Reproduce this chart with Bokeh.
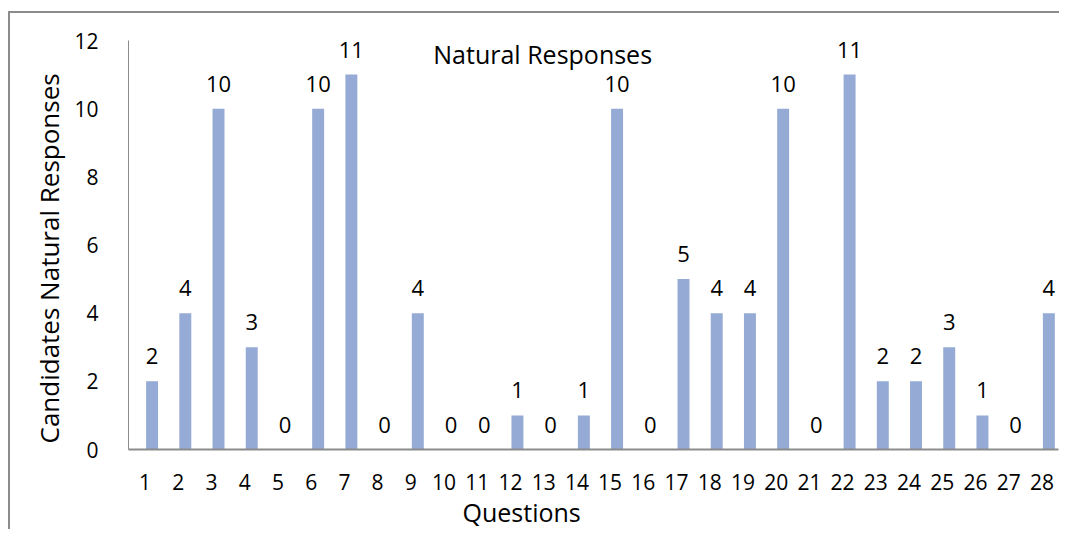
from bokeh.plotting import figure
from bokeh.models import ColumnDataSource, FactorRange, Range1d, FixedTicker, LabelSet, Label, Title
from bokeh.transform import dodge
from bokeh.core.properties import value
from bokeh.embed import file_html
from bokeh.resources import INLINE

questions = [str(i) for i in range(1, 29)]
responses = [2, 4, 10, 3, 0, 10, 11, 0, 4, 0, 0, 1, 0, 1, 10, 0, 5, 4, 4, 10, 0, 11, 2, 2, 3, 1, 0, 4]
y_ticks = [0, 2, 4, 6, 8, 10, 12]
title_text = "Natural Responses"
x_title = "Questions"
y_title = "Candidates Natural Responses"

FONT = "Open Sans"
BAR = "#95AAD4"
AXIS = "#8C8C8C"

src = ColumnDataSource(dict(q=questions, v=responses, lbl=[str(v) for v in responses]))

p = figure(width=1059, height=529, x_range=FactorRange(*questions, range_padding=0),
           y_range=Range1d(0, 12), output_backend="svg", toolbar_location=None,
           min_border_left=128, min_border_right=1, min_border_top=40, min_border_bottom=80)
p.border_fill_color = None
p.styles = {
    "background": "linear-gradient(#8C8C8C, #8C8C8C) 8px 11px / 2px 100% no-repeat, "
                  "linear-gradient(#8C8C8C, #8C8C8C) 8px 11px / 100% 2px no-repeat"
}
p.outline_line_color = None
p.xgrid.visible = False
p.ygrid.visible = False

p.vbar(x=dodge("q", 0.21, range=p.x_range), top="v", width=0.36, source=src,
       fill_color=BAR, line_color=None)

labels = LabelSet(x=dodge("q", 0.21, range=p.x_range), y="v", text="lbl", source=src,
                  text_align="center", text_baseline="alphabetic", y_offset=17,
                  text_font=value(FONT), text_font_size="22px", text_color="black")
p.add_layout(labels)

p.add_layout(Label(x=12.47, y=11.6, text=title_text, text_align="center",
                   text_baseline="alphabetic", text_font=FONT, text_font_size="25px",
                   text_color="black"))

p.add_layout(Title(text=x_title, align="left", offset=334, standoff=0,
                   text_font=FONT, text_font_size="25px", text_font_style="normal",
                   text_color="black"), "below")
p.add_layout(Title(text=y_title, align="left", offset=6, standoff=10,
                   text_font=FONT, text_font_size="26px", text_font_style="normal",
                   text_color="black"), "left")

p.yaxis.ticker = FixedTicker(ticks=y_ticks)
for ax in (p.xaxis[0], p.yaxis[0]):
    ax.major_tick_line_color = None
    ax.minor_tick_line_color = None
    ax.major_label_text_font = FONT
    ax.major_label_text_font_size = "21px"
    ax.major_label_text_color = "black"
    ax.axis_line_color = AXIS

p.yaxis.major_label_standoff = 24
p.yaxis.axis_line_width = 1
p.xaxis.major_label_standoff = 18
p.xaxis.axis_line_width = 2

open("out.html", "w").write(file_html(p, INLINE))
